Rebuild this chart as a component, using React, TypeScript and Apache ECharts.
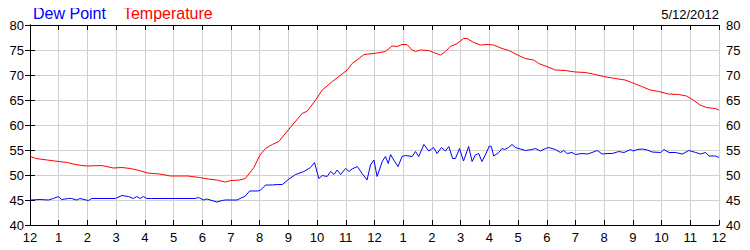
import React, { useEffect, useRef } from "react";
import * as echarts from "echarts";

const dateLabel = "5/12/2012";
const seriesNames = ["Dew Point", "Temperature"];
const hourTicks = [0, 1, 2, 3, 4, 5, 6, 7, 8, 9, 10, 11, 12, 13, 14, 15, 16, 17, 18, 19, 20, 21, 22, 23, 24];

const temperature: [number, number][] = [
  [0, 53.8], [0.2, 53.3], [0.6, 53.0], [1.0, 52.7], [1.3, 52.5], [1.5, 52.2], [1.8, 51.9], [2.0, 51.8],
  [2.5, 51.9], [2.9, 51.4], [3.2, 51.5], [3.5, 51.3], [3.8, 50.9], [4.1, 50.4], [4.5, 50.2], [4.9, 49.8],
  [5.5, 49.8], [5.9, 49.5], [6.2, 49.2], [6.5, 49.0], [6.8, 48.6], [7.0, 48.9], [7.3, 49.0], [7.5, 49.3],
  [7.8, 51.5], [8.0, 53.9], [8.2, 55.3], [8.44, 56.1], [8.67, 56.7], [8.85, 58], [9.14, 60], [9.48, 62.3],
  [9.66, 62.8], [9.95, 65], [10.18, 67], [10.53, 68.7], [10.76, 69.7], [11.05, 71], [11.22, 72.3],
  [11.46, 73.3], [11.63, 74.1], [11.98, 74.3], [12.38, 74.7], [12.61, 75.8], [12.79, 75.7], [12.96, 76.1],
  [13.13, 76.1], [13.31, 75.0], [13.43, 74.7], [13.6, 75.0], [13.89, 74.9], [14.06, 74.5], [14.3, 74.0],
  [14.47, 74.7], [14.64, 75.7], [14.88, 76.3], [15.1, 77.3], [15.22, 77.3], [15.46, 76.5], [15.69, 76.0],
  [15.92, 76.1], [16.15, 76.0], [16.44, 75.3], [16.68, 74.9], [17.02, 73.9], [17.25, 73.3], [17.54, 73.0],
  [17.72, 72.3], [18.0, 71.7], [18.3, 71.0], [18.65, 70.9], [19.0, 70.6], [19.34, 70.5], [19.69, 70.1],
  [19.98, 69.7], [20.38, 69.3], [20.73, 69.0], [20.96, 68.5], [21.31, 67.7], [21.6, 67.0], [21.9, 66.7],
  [22.24, 66.2], [22.59, 66.1], [22.87, 65.8], [23.1, 65.0], [23.34, 64.0], [23.57, 63.5], [23.86, 63.3],
  [24.0, 63.0],
];

const dewPoint: [number, number][] = [
  [0, 45.0], [0.35, 45.1], [0.64, 45.0], [0.81, 45.3], [0.99, 45.7], [1.1, 45.1], [1.34, 45.3], [1.45, 45.3],
  [1.63, 45.0], [1.74, 45.3], [2.03, 44.9], [2.15, 45.3], [2.97, 45.3], [3.2, 45.9], [3.43, 45.7], [3.6, 45.3],
  [3.72, 45.7], [3.84, 45.3], [3.95, 45.7], [4.07, 45.3], [4.24, 45.3], [5.76, 45.3], [5.87, 45.5], [6.05, 45.0],
  [6.16, 45.2], [6.51, 44.6], [6.69, 44.9], [6.8, 45.0], [7.21, 45.0], [7.5, 45.8], [7.65, 46.8], [7.92, 46.8],
  [8.02, 46.9], [8.21, 48.0], [8.44, 48.0], [8.61, 48.1], [8.79, 48.1], [9.02, 49.2], [9.25, 50.1], [9.54, 50.7],
  [9.77, 51.5], [9.91, 52.5], [10.06, 49.3], [10.18, 49.9], [10.35, 49.7], [10.47, 50.7], [10.59, 50.1],
  [10.7, 51.0], [10.82, 50.1], [10.99, 51.3], [11.11, 50.7], [11.22, 51.2], [11.4, 51.7], [11.57, 50.3],
  [11.74, 49.0], [11.86, 52.0], [11.98, 53.0], [12.09, 49.7], [12.27, 52.7], [12.38, 53.7], [12.48, 52.3],
  [12.56, 54.1], [12.67, 53.0], [12.82, 51.7], [12.96, 53.7], [13.08, 53.9], [13.31, 53.7], [13.43, 54.7],
  [13.54, 53.7], [13.72, 56.1], [13.89, 54.8], [14.06, 55.5], [14.18, 54.3], [14.33, 55.5], [14.47, 54.8],
  [14.59, 55.7], [14.72, 53.3], [14.82, 53.3], [14.96, 55.3], [15.1, 52.8], [15.28, 55.7], [15.4, 52.7],
  [15.51, 54.0], [15.63, 54.3], [15.74, 52.7], [15.86, 54.0], [16.0, 55.8], [16.07, 55.7], [16.15, 53.8],
  [16.33, 54.5], [16.44, 55.3], [16.53, 55.1], [16.67, 55.5], [16.79, 56.1], [16.91, 55.5], [17.08, 55.2],
  [17.26, 54.9], [17.49, 55.1], [17.6, 55.3], [17.78, 54.8], [17.95, 55.3], [18.07, 55.5], [18.3, 55.1],
  [18.48, 54.5], [18.59, 54.9], [18.71, 54.3], [18.88, 54.5], [19.0, 54.1], [19.23, 54.3], [19.41, 54.2],
  [19.58, 54.5], [19.76, 54.9], [19.93, 54.2], [20.1, 54.3], [20.28, 54.3], [20.51, 54.7], [20.69, 54.5],
  [20.92, 55.1], [21.01, 54.8], [21.15, 55.1], [21.33, 55.2], [21.5, 55.0], [21.67, 54.6], [21.97, 54.5],
  [22.08, 55.1], [22.26, 54.5], [22.49, 54.5], [22.72, 54.2], [22.95, 54.9], [23.19, 54.5], [23.36, 54.2],
  [23.53, 54.5], [23.65, 53.8], [23.88, 53.8], [24.0, 53.5],
];

const FONT = "'Liberation Sans', Arial, sans-serif";

function hourLabel(v: number): string {
  const h = Math.round(v) % 12;
  return String(h === 0 ? 12 : h);
}

export default function App() {
  const ref = useRef<HTMLDivElement>(null);
  useEffect(() => {
    if (!ref.current) return;
    const chart = echarts.init(ref.current, undefined, { renderer: "svg" });
    const axisLine = { show: true, lineStyle: { color: "#000", width: 1 } };
    const axisTick = { show: true, inside: true, length: 5, lineStyle: { color: "#000" } };
    const labelStyle = { color: "#000", fontFamily: FONT, fontSize: 13 };
    chart.setOption({
      animation: false,
      backgroundColor: "#fff",
      grid: { left: 30, right: 31, top: 25, bottom: 25, containLabel: false },
      legend: {
        left: 23,
        top: 0,
        itemWidth: 0,
        itemHeight: 0,
        itemGap: 12,
        icon: "rect",
        selectedMode: false,
        data: [
          { name: seriesNames[0], textStyle: { color: "#0000ff" } },
          { name: seriesNames[1], textStyle: { color: "#ff0000" } },
        ],
        textStyle: { fontFamily: FONT, fontSize: 16 },
      },
      graphic: [
        {
          type: "text",
          right: 31,
          top: 8,
          style: { text: dateLabel, fill: "#000", font: `13px ${FONT}` },
        },
      ],
      xAxis: [
        {
          type: "value",
          min: hourTicks[0],
          max: hourTicks[hourTicks.length - 1],
          interval: 1,
          position: "bottom",
          axisLine,
          axisTick,
          axisLabel: { ...labelStyle, margin: 6, formatter: hourLabel, showMinLabel: true, showMaxLabel: true },
          splitLine: { show: true, lineStyle: { color: "#d0d0d0", width: 1 } },
        },
        {
          type: "value",
          min: hourTicks[0],
          max: hourTicks[hourTicks.length - 1],
          interval: 1,
          position: "top",
          axisLine,
          axisTick,
          axisLabel: { show: false },
          splitLine: { show: false },
        },
      ],
      yAxis: [
        {
          type: "value",
          min: 40,
          max: 80,
          interval: 5,
          position: "left",
          axisLine,
          axisTick,
          axisLabel: { ...labelStyle, margin: 6 },
          splitLine: { show: true, lineStyle: { color: "#d0d0d0", width: 1 } },
        },
        {
          type: "value",
          min: 40,
          max: 80,
          interval: 5,
          position: "right",
          axisLine,
          axisTick,
          axisLabel: { ...labelStyle, margin: 7 },
          splitLine: { show: false },
        },
      ],
      series: [
        {
          name: seriesNames[0],
          type: "line",
          data: dewPoint,
          showSymbol: false,
          symbol: "none",
          lineStyle: { color: "#0000ff", width: 1 },
          itemStyle: { color: "#0000ff" },
        },
        {
          name: seriesNames[1],
          type: "line",
          data: temperature,
          showSymbol: false,
          symbol: "none",
          lineStyle: { color: "#ff0000", width: 1 },
          itemStyle: { color: "#ff0000" },
        },
      ],
    });
    return () => chart.dispose();
  }, []);
  return <div ref={ref} style={{ width: 750, height: 250, margin: -8 }} />;
}
